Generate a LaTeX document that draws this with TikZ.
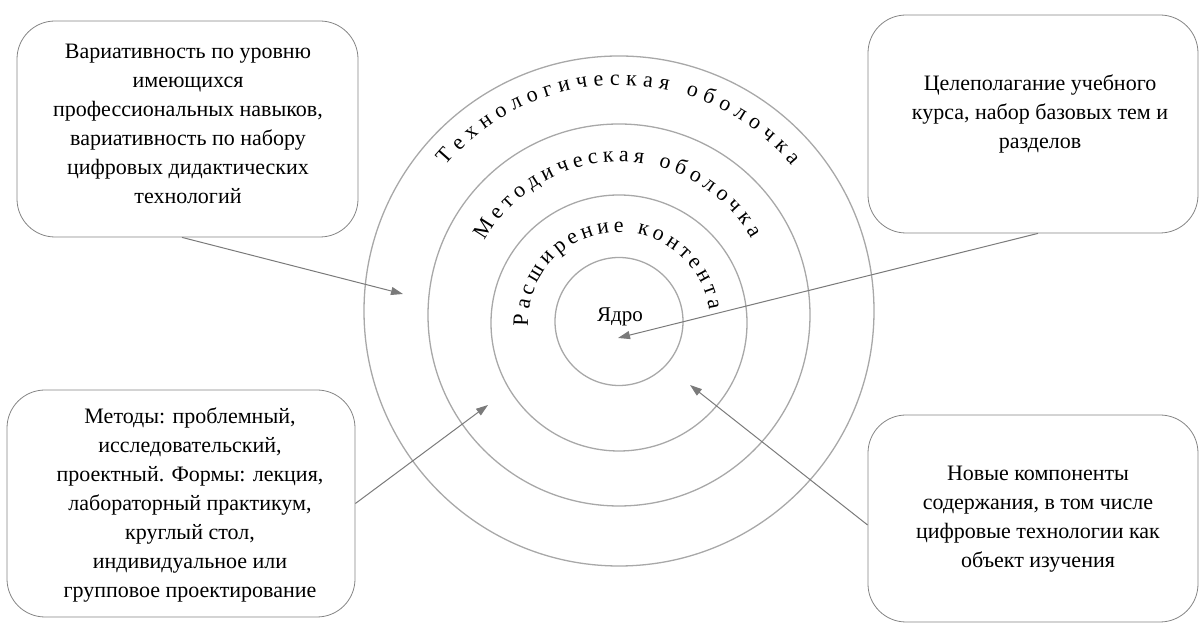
\documentclass[tikz,border=0pt]{standalone}
\usepackage{fontspec}
\setmainfont{Liberation Serif}
\usetikzlibrary{arrows.meta,decorations.text}
\definecolor{ringgray}{HTML}{A8A8A8}
\definecolor{boxgray}{HTML}{858585}
\definecolor{arrowgray}{HTML}{7A7A7A}
\begin{document}
\begin{tikzpicture}[x=1pt,y=1pt,
  ring/.style={draw=ringgray, line width=1.3pt},
  box/.style={draw=boxgray, line width=0.8pt, rounded corners=38pt, fill=white},
  txt/.style={align=center, font=\fontsize{22}{29}\selectfont, text=black, inner sep=0pt},
  conn/.style={draw=arrowgray, line width=1pt, -{Triangle[length=12pt,width=8pt]}},
  arctext/.style={decorate, decoration={text along path, text align={fit to path}, text={|\fontsize{22}{26}\selectfont|#1}}}
]
\useasboundingbox (0,0) rectangle (1200,628);

% rings
\draw[ring] (619,317) circle[radius=255];
\draw[ring] (619,313) circle[radius=191];
\draw[ring] (619,305) circle[radius=128];
\draw[ring] (619,306.5) circle[radius=64];

% curved labels
\path[arctext={Технологическая оболочка}] (619,317) ++(140:226) arc[start angle=140, end angle=40, radius=226];
\path[arctext={Методическая оболочка}] (619,313) ++(151:153) arc[start angle=151, end angle=30, radius=153];
\path[arctext={Расширение контента}] (619,305) ++(182:91) arc[start angle=182, end angle=8, radius=91];

\node[font=\fontsize{21}{24}\selectfont, inner sep=0pt] (core) at (620,311) {Ядро};

% boxes
\node[box, minimum width=341pt, minimum height=216pt] (b1) at (187.5,499) {};
\node[box, minimum width=330pt, minimum height=218pt] (b2) at (1033,504) {};
\node[box, minimum width=348pt, minimum height=227pt] (b3) at (181,124.5) {};
\node[box, minimum width=330pt, minimum height=207pt] (b4) at (1033,109.5) {};

\node[txt] (t1) at (188,504) {Вариативность по уровню\\имеющихся\\профессиональных навыков,\\вариативность по набору\\цифровых дидактических\\технологий};
\node[txt] (t2) at (1040,514) {Целеполагание учебного\\курса, набор базовых тем и\\разделов};
\node[txt] (t3) at (190,123) {Методы: проблемный,\\исследовательский,\\проектный. Формы: лекция,\\лабораторный практикум,\\круглый стол,\\индивидуальное или\\групповое проектирование};
\node[txt] (t4) at (1038,109) {Новые компоненты\\содержания, в том числе\\цифровые технологии как\\объект изучения};

% arrow targets
\coordinate (p1) at (403,334);
\coordinate (p2) at (618,290);
\coordinate (p3) at (488,223);
\coordinate (p4) at (690,243);

\draw[conn] (b1.south -| 182,0) -- (p1);
\draw[conn] (b2.south -| 1038,0) -- (p2);
\draw[conn] (b3.east) -- (p3);
\draw[conn] (b4.west |- 0,103) -- (p4);
\end{tikzpicture}
\end{document}
